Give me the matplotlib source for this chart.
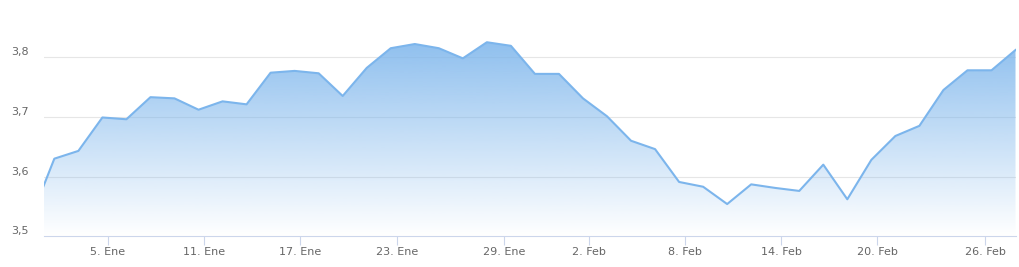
import numpy as np
import matplotlib.pyplot as plt
from matplotlib.patches import PathPatch
from matplotlib.path import Path

# daily values, first one sits just left of the visible area
values = [3.528, 3.630, 3.643, 3.699, 3.696, 3.733, 3.731, 3.712, 3.726, 3.721,
          3.774, 3.777, 3.773, 3.735, 3.782, 3.815, 3.822, 3.815, 3.798, 3.825,
          3.819, 3.772, 3.772, 3.731, 3.701, 3.660, 3.646, 3.591, 3.583, 3.554,
          3.587, 3.581, 3.576, 3.620, 3.562, 3.628, 3.668, 3.685, 3.745, 3.778,
          3.778, 3.812]
tick_pos = [3.23, 7.23, 11.22, 15.25, 19.73, 23.26, 27.26, 31.24, 35.25, 39.74]
tick_labels = ['5. Ene', '11. Ene', '17. Ene', '23. Ene', '29. Ene',
               '2. Feb', '8. Feb', '14. Feb', '20. Feb', '26. Feb']
y_ticks = [3.5, 3.6, 3.7, 3.8]
y_labels = ['3,5', '3,6', '3,7', '3,8']

color = '#7cb5ec'
ymin, ymax = 3.5, 3.88

fig = plt.figure(figsize=(10.19, 2.67), dpi=100)
ax = fig.add_axes([44 / 1019, 30.7 / 267, 972 / 1019, 226.9 / 267])
x = np.arange(len(values))
ax.set_xlim(0.57, 41.02)
ax.set_ylim(ymin, ymax)

# gradient fill under the line
verts = [(x[0], ymin)] + list(zip(x, values)) + [(x[-1], ymin)]
patch = PathPatch(Path(verts), facecolor='none', edgecolor='none')
ax.add_patch(patch)
rgba = np.zeros((256, 1, 4))
rgba[..., 0] = 124 / 255
rgba[..., 1] = 181 / 255
rgba[..., 2] = 236 / 255
rgba[:, 0, 3] = np.linspace(1, 0, 256)
im = ax.imshow(rgba, extent=[0.57, 41.02, ymin, ymax], aspect='auto',
               origin='upper', zorder=1)
im.set_clip_path(patch)

ax.plot(x, values, color=color, lw=1.5, zorder=3, solid_joinstyle='round')

for yv in y_ticks[1:]:
    ax.axhline(yv, color='#e6e6e6', lw=0.8, zorder=0)
for yv, lab in zip(y_ticks, y_labels):
    ax.annotate(lab, xy=(0, yv), xycoords=('axes fraction', 'data'),
                xytext=(-15, 5), textcoords='offset pixels',
                ha='right', va='center', fontsize=8, color='#666666')

ax.set_yticks([])
ax.set_xticks(tick_pos)
ax.set_xticklabels(tick_labels, fontsize=8, color='#666666')
ax.tick_params(axis='x', length=6.5, width=0.8, color='#ccd6eb', pad=1.5)
for s in ['top', 'right', 'left']:
    ax.spines[s].set_visible(False)
ax.spines['bottom'].set_color('#ccd6eb')
ax.spines['bottom'].set_linewidth(0.8)

fig.savefig('out.png', dpi=100)
